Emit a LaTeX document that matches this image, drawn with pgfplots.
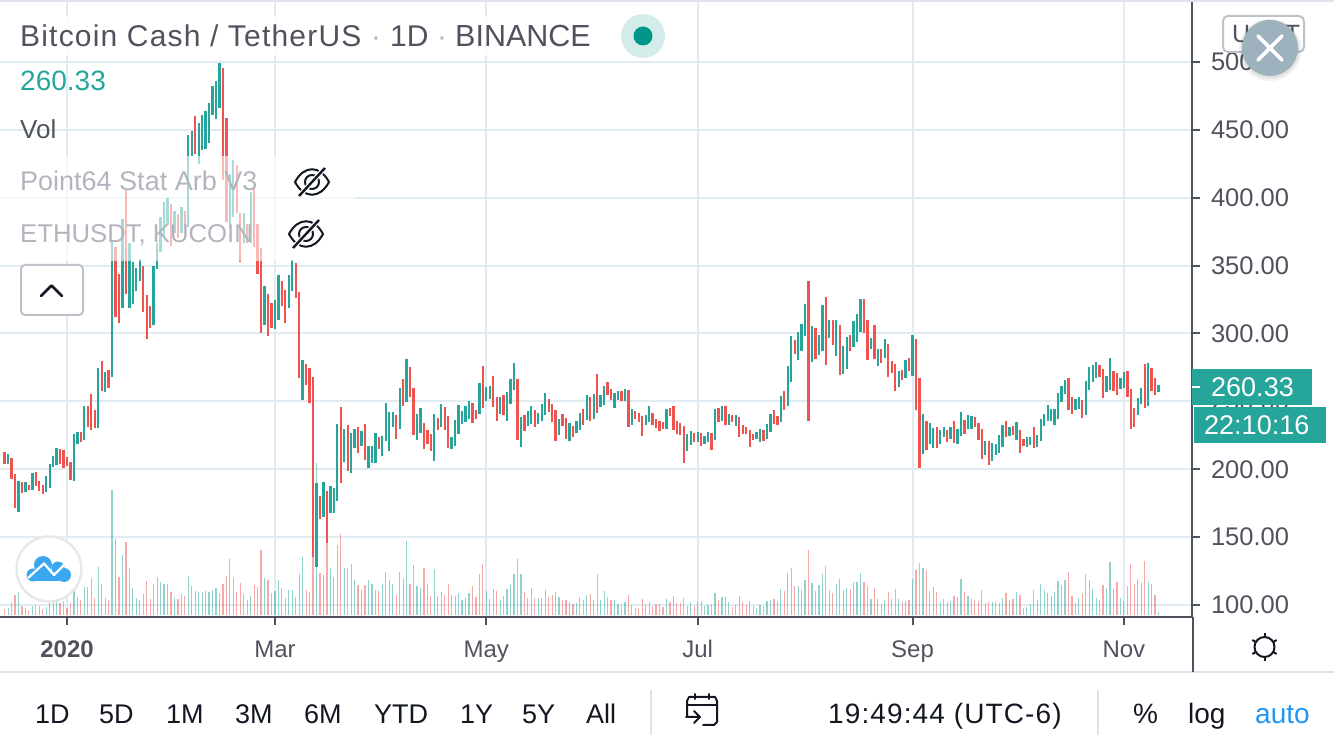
\documentclass[border=0pt]{standalone}
\usepackage{pgfplots}
\usepackage{pgfplotstable}
\usepackage{fontspec}
\pgfplotsset{compat=1.18}
\setmainfont{Liberation Sans}
\newfontfamily\spaced[LetterSpace=4]{Liberation Sans}

\definecolor{barred}{HTML}{EF5350}
\definecolor{barteal}{HTML}{26A69A}
\definecolor{gridc}{HTML}{E1ECF2}
\definecolor{axisc}{HTML}{50535E}
\definecolor{darkc}{HTML}{131722}
\definecolor{fadec}{HTML}{B2B5BE}
\definecolor{edgec}{HTML}{E0E3EB}
\definecolor{blueauto}{HTML}{2196F3}
\definecolor{closec}{HTML}{9DB2BD}
\definecolor{dotc}{HTML}{009688}
\definecolor{cloudc}{HTML}{3BA7F0}

% day (0 = 1 Jan 2020), low, high, volume (px height on the hidden volume scale)
\pgfplotstableread{
d low high vol
-18 203.7 212.5 6
-16 192.6 208.1 13
-15 171.3 196.3 20
-13 182.3 190.4 9
-11 184.5 188.2 4
-9 187.5 197.8 10
-8 183.8 191.2 9
-7 181.6 188.2 6
-2 203.7 214.7 12
-1 200.7 214.0 14
0 202.2 208.8 7
1 191.9 205.2 12
4 219.9 227.3 15
6 231.0 246.4 28
7 228.7 255.3 37
8 230.2 243.5 17
10 257.5 279.6 31
12 259.7 273.0 15
14 312.0 363.5 76
15 308.0 344.0 38
17 329.0 406.0 73
22 315.7 350.0 21
23 295.8 328.0 34
24 304.0 320.0 16
30 364.5 395.4 23
32 370.0 388.0 16
34 377.5 390.0 19
37 432.0 460.0 24
45 413.0 495.6 31
46 382.0 458.8 39
49 389.0 424.0 23
50 353.0 388.5 32
52 367.0 381.0 15
54 363.5 409.0 30
55 344.0 380.7 28
56 300.2 362.7 65
58 298.0 329.0 35
59 304.0 322.4 22
62 320.0 339.0 27
63 307.6 332.0 17
66 326.0 352.0 18
67 267.0 330.5 41
69 262.0 277.4 25
70 248.6 274.4 23
71 135.0 267.8 59
73 163.0 180.0 42
75 146.0 183.8 72
79 189.7 245.7 81
81 198.5 232.4 47
84 211.8 231.0 30
86 207.0 233.0 30
90 214.7 223.6 24
95 222.0 239.8 20
97 246.6 266.5 37
99 253.0 275.0 31
100 225.0 260.0 50
103 215.0 234.0 47
104 218.6 229.0 31
105 213.4 226.0 19
107 229.0 237.8 19
109 229.0 245.9 20
110 215.7 239.0 31
117 234.0 248.8 29
118 237.0 243.6 18
120 245.0 276.0 51
123 245.9 268.7 26
124 235.5 253.0 24
126 240.0 254.7 19
130 221.5 266.5 56
132 228.0 240.0 23
135 231.0 243.6 17
139 242.2 251.7 18
140 234.8 248.0 20
141 220.8 243.6 23
143 231.9 240.7 15
144 222.3 237.8 15
146 223.8 231.9 11
149 232.6 244.4 15
151 235.5 253.2 21
153 241.4 270.0 41
156 254.7 264.3 18
157 251.0 259.0 15
160 250.3 257.6 10
162 231.0 258.4 20
164 237.0 243.0 7
165 234.8 241.4 7
166 224.5 239.2 16
169 232.6 241.4 9
170 230.4 237.0 11
171 228.2 235.5 11
172 229.6 234.8 8
174 239.0 245.0 13
175 228.9 246.6 19
176 226.0 235.5 12
177 225.2 234.0 12
178 204.6 231.9 17
181 220.0 226.7 9
183 217.0 226.7 14
186 214.2 226.7 11
188 234.8 245.0 15
190 232.6 246.6 18
192 234.8 240.0 8
194 223.8 238.5 19
195 226.0 232.6 13
196 226.0 231.0 10
197 216.4 228.9 14
198 221.5 226.0 9
201 220.8 228.9 9
204 233.3 243.6 16
205 232.6 239.2 14
207 243.6 257.6 24
210 285.0 295.0 29
214 235.5 338.7 65
216 281.0 304.0 24
219 276.8 326.9 49
221 291.5 310.0 22
223 269.4 306.0 36
226 287.0 298.9 26
230 300.4 325.4 33
231 280.5 310.0 29
233 281.0 306.0 27
235 278.3 288.6 11
237 268.0 292.3 23
238 270.9 279.7 16
239 257.6 277.5 26
241 265.7 273.0 13
243 272.4 282.0 15
245 243.6 296.0 45
246 200.9 267.0 52
248 214.0 235.5 45
251 215.7 231.0 23
254 220.0 229.0 13
256 219.3 235.5 19
259 226.0 236.3 23
262 231.0 238.5 15
263 221.5 234.0 14
264 207.5 229.6 25
266 203.0 220.8 13
271 223.8 235.5 22
273 225.0 231.9 16
275 212.0 229.0 20
276 217.0 222.3 7
279 215.7 231.0 25
289 243.6 267.0 43
290 240.7 253.2 19
293 237.8 251.0 22
298 268.0 276.8 15
299 252.5 273.8 30
302 257.6 272.4 26
303 254.7 270.9 33
306 253.2 272.4 29
307 229.6 259.0 51
308 231.0 245.0 31
311 245.0 277.5 54
313 257.6 274.6 31
314 254.7 267.0 20
}\redbars

\pgfplotstableread{
d low high vol
-17 203.7 211.0 7
-14 168.3 191.2 23
-12 183.0 190.4 7
-10 184.5 197.0 9
-6 183.0 194.8 8
-5 186.0 203.7 13
-4 201.5 209.6 13
-3 203.0 215.5 13
2 191.2 225.8 25
3 218.4 227.3 18
5 221.4 246.4 28
9 230.2 274.4 48
11 256.8 271.5 17
13 268.0 369.0 125
16 318.6 384.0 60
18 318.6 366.4 47
19 321.6 353.0 27
20 331.0 348.0 17
21 338.6 354.6 15
25 306.0 350.0 31
26 347.5 367.0 38
27 360.0 386.0 33
28 371.0 396.6 31
29 380.0 399.6 31
31 373.8 390.0 17
33 374.0 393.0 21
35 378.7 446.0 39
36 431.0 449.0 29
38 425.0 455.0 23
39 435.0 461.0 23
40 436.0 464.0 24
41 440.0 470.0 23
42 461.0 482.0 25
43 458.0 486.0 27
44 466.0 499.0 22
47 378.7 417.5 56
48 386.0 428.0 37
51 367.0 389.0 21
53 367.0 404.5 19
57 306.0 334.9 37
60 303.0 324.6 24
61 309.8 343.0 35
64 318.7 343.0 25
65 331.0 354.0 25
68 250.9 280.3 58
72 127.8 189.7 152
74 164.6 190.4 40
76 167.6 188.0 47
77 167.6 186.0 38
78 176.4 233.0 70
80 205.0 229.5 47
82 197.0 227.0 51
83 216.0 230.0 35
85 217.0 228.0 25
87 200.7 217.0 35
88 204.4 217.0 31
89 204.4 226.5 25
91 210.0 224.3 31
92 220.6 248.6 43
93 213.3 242.0 35
94 231.0 242.0 31
96 229.5 259.7 43
98 249.5 281.0 74
101 221.5 240.7 29
102 226.7 245.0 27
106 206.0 240.7 46
108 231.0 248.0 23
111 214.9 223.8 20
112 217.0 236.3 19
113 226.0 247.0 22
114 233.0 243.0 15
115 234.8 246.6 17
116 237.0 250.3 22
119 240.7 263.5 41
121 250.3 260.6 24
122 251.7 261.3 16
125 240.7 253.0 15
127 235.5 257.0 26
128 248.0 266.5 31
129 258.4 278.0 41
131 216.4 238.5 41
133 231.9 243.0 17
134 233.3 246.6 27
136 233.3 241.4 17
137 235.5 248.0 17
138 240.0 256.2 25
142 225.2 237.0 18
145 220.8 234.0 13
147 226.7 235.5 12
148 228.9 241.4 18
150 236.3 254.7 20
152 237.0 255.4 15
154 245.9 254.7 15
155 247.3 261.3 24
158 245.0 256.2 15
159 251.0 257.6 11
161 250.3 259.0 13
163 232.6 244.4 10
167 232.6 240.0 10
168 234.8 246.6 13
173 229.6 244.4 16
179 213.4 226.0 9
180 218.0 228.2 13
182 220.0 227.4 13
184 218.6 224.5 9
185 220.0 227.4 10
187 221.5 244.4 22
189 235.5 246.6 18
191 232.6 240.7 13
193 231.9 240.0 10
199 222.3 227.4 7
200 220.0 229.6 10
202 222.3 233.3 14
203 227.4 240.7 15
206 234.8 254.0 26
208 246.6 276.0 42
209 264.0 298.0 47
211 280.5 301.0 29
212 287.0 307.0 25
213 298.0 321.7 35
215 279.0 305.5 32
217 284.0 299.0 30
218 287.0 321.0 41
220 296.7 310.0 25
222 283.4 310.0 31
224 270.0 290.8 25
225 273.8 297.4 27
227 290.0 309.0 33
228 293.7 314.4 33
229 301.0 325.4 42
232 288.6 296.7 16
234 276.0 288.6 16
236 282.0 296.0 15
240 260.6 272.4 16
242 267.0 280.5 14
244 268.7 298.9 36
247 211.0 240.7 47
249 218.6 234.0 24
250 215.7 230.4 28
252 218.6 229.0 13
253 223.8 231.0 16
255 222.3 231.0 14
257 218.6 229.6 18
258 224.5 242.0 36
260 229.6 240.0 19
261 229.6 239.2 16
265 210.5 220.8 12
267 206.0 219.3 13
268 210.5 218.6 13
269 212.0 225.0 12
270 216.4 232.6 17
272 224.5 231.0 15
274 221.5 234.8 23
277 216.4 223.8 8
278 217.9 223.8 11
280 216.4 225.0 15
281 220.8 237.0 31
282 231.9 240.7 25
283 235.5 247.3 22
284 235.5 244.4 19
285 232.6 244.4 23
286 237.0 256.0 34
287 249.5 261.3 30
288 255.4 265.7 35
291 243.6 251.7 12
292 244.4 253.2 17
294 240.0 265.0 41
295 258.4 275.3 35
296 264.3 276.8 26
297 267.0 279.0 17
300 256.9 268.7 27
301 258.4 282.0 53
304 259.0 267.0 17
305 259.8 271.6 14
309 240.0 252.5 35
310 248.0 259.8 32
312 246.6 278.3 33
315 256.9 262.0 3
}\tealbars

\newcommand{\eye}[2]{%
  \begin{scope}[shift={(#1,#2)},draw=darkc,line width=2pt]
    \draw (-17,0) .. controls (-8,-17) and (8,-17) .. (17,0) .. controls (8,17) and (-8,17) .. (-17,0) -- cycle;
    \draw (0,0) circle[radius=7];
    \draw[white,line width=5pt] (-12,13) -- (12,-13);
    \draw[line width=2.4pt] (-13,14) -- (13,-14);
  \end{scope}}
\newcommand{\lbl}[4][axisc]{\node[anchor=base west,inner sep=0,text=#1,font=\fontsize{#2}{#2}\selectfont] at #3 {#4};}

\begin{document}
\begin{tikzpicture}[x=1pt,y=1pt]
\path[use as bounding box] (0,0) rectangle (1334,750);

\begin{axis}[
  scale only axis, width=1192.5pt, height=617pt,
  at={(0pt,133pt)}, anchor=south west,
  xmin=-19.34, xmax=324.8,
  ymin=91.16, ymax=545.67,
  axis x line*=bottom, axis y line*=right,
  axis line style={draw=axisc,line width=2pt,-},
  xtick={0,60,121,182,244,305},
  xticklabels={\textbf{2020},Mar,May,Jul,Sep,Nov},
  ytick={100,150,200,250,300,350,400,450,500},
  tick align=outside, major tick length=8pt,
  tick style={draw=axisc,line width=2pt},
  grid=major, major grid style={draw=gridc,line width=2pt},
  xticklabel style={font=\fontsize{24}{24}\selectfont,text=axisc,yshift=-12pt},
  yticklabel style={font=\fontsize{25.5}{25.5}\selectfont,text=axisc,xshift=7pt},
  /pgf/number format/assume math mode=true,
  /pgf/number format/fixed, /pgf/number format/fixed zerofill,
  /pgf/number format/precision=2,
  error bars/y dir=plus, error bars/y explicit, error bars/error mark=none,
]
\addplot[draw=none,mark=none,error bars/error bar style={draw=barred,line width=2.3pt}]
  table[x=d,y=low,y error plus expr=\thisrow{high}-\thisrow{low},y error minus expr=0] {\redbars};
\addplot[draw=none,mark=none,error bars/error bar style={draw=barteal,line width=2.3pt}]
  table[x=d,y=low,y error plus expr=\thisrow{high}-\thisrow{low},y error minus expr=0] {\tealbars};
\end{axis}

% volume pane on its own hidden scale
\begin{axis}[
  scale only axis, width=1192.5pt, height=200pt,
  at={(0pt,134.5pt)}, anchor=south west,
  xmin=-19.34, xmax=324.8, ymin=0, ymax=200,
  hide axis,
]
\addplot[ycomb,mark=none,draw=barred,opacity=0.5,line width=1.2pt] table[x=d,y=vol] {\redbars};
\addplot[ycomb,mark=none,draw=barteal,opacity=0.5,line width=1.2pt] table[x=d,y=vol] {\tealbars};
\end{axis}

% everything below in image pixels, y running down
\begin{scope}[y=-1pt,yshift=750pt]
% frame
\fill[edgec] (0,0) rectangle (1334,2);
\fill[edgec] (0,671) rectangle (1334,673.5);
\draw[axisc,line width=2pt] (1192.5,617) -- (1192.5,672);

% legend veil over the bars
\fill[white,opacity=0.6] (0,156) rectangle (356,261);
\fill[white,opacity=0.8] (0,16) rectangle (610,56);

% title row
\lbl{30}{(20,47)}{\spaced Bitcoin Cash / TetherUS}
\lbl[fadec]{29.5}{(371,47)}{·}
\lbl{30}{(390,47)}{1D}
\lbl[fadec]{29.5}{(437,47)}{·}
\lbl{30.5}{(455,47)}{BINANCE}
\fill[barteal!20] (643,36) circle[radius=22];
\fill[dotc] (643,36) circle[radius=9.5];

\lbl[barteal]{28}{(20,91)}{260.33}
\lbl{26}{(20,139)}{Vol}
\lbl[fadec]{27}{(20,191)}{Point64 Stat Arb V3}
\lbl[fadec]{25.7}{(20,243)}{ETHUSDT, KUCOIN}
\eye{312}{182}
\eye{306}{234}

\draw[fill=white,draw=edgec!85!black,line width=2pt,rounded corners=4pt] (21,265) rectangle (83,315);
\draw[darkc,line width=2.8pt,line cap=round,line join=round] (41,296) -- (51.5,285.5) -- (62,296);

% logo
\draw[fill=white,draw=black!9,line width=2.4pt] (49,569) circle[radius=32.5];
\begin{scope}[fill=cloudc]
  \fill (43,565) circle[radius=9];
  \fill (58,568) circle[radius=6.5];
  \fill (64,575) circle[radius=7];
  \fill (33,575) circle[radius=6.5];
  \fill (34,570) rectangle (66,581.5);
\end{scope}
\draw[white,line width=2.2pt,line join=round] (28,578) -- (44,563.5) -- (54,575) -- (66,563);

% currency button and close bubble
\draw[fill=white,draw=edgec!85!black,line width=2pt,rounded corners=5pt] (1223,16) rectangle (1304,52);
\lbl{25}{(1232,43)}{USDT}
\fill[black,opacity=0.06] (1270,50) circle[radius=31];
\fill[black,opacity=0.06] (1270,49) circle[radius=29.5];
\fill[closec] (1270,48) circle[radius=28];
\draw[white,line width=3.6pt,line cap=round] (1258,36) -- (1282,60) (1282,36) -- (1258,60);

% price tags
\fill[barteal] (1192,369) rectangle (1312,405);
\fill[barteal] (1194,407) rectangle (1326,443);
\draw[white,line width=2pt] (1192,387) -- (1200,387);
\lbl[white]{27}{(1211,396.5)}{260.33}
\lbl[white]{27}{(1204,434.5)}{22:10:16}

% sun icon
\begin{scope}[shift={(1264.5,647)},draw=darkc,line width=2pt]
  \draw (0,0) circle[radius=10];
  \foreach \a in {90,270,30,150,210,330} \draw (\a:10) -- (\a:14);
\end{scope}

% toolbar
\foreach \x/\t in {35/1D,99/5D,166/1M,235/3M,304/6M,374/YTD,460/1Y,522/5Y,586/All}
  {\lbl[darkc]{27}{(\x,723)}{\t}}
\fill[edgec] (650,690) rectangle (651.5,735);
\begin{scope}[darkc,line width=2pt,line cap=round,line join=round]
  \draw (687,716) -- (687,701) -- (689,697) -- (715,697) -- (717,701) -- (717,722) -- (714,725) -- (703,725);
  \draw (687,705) -- (717,705);
  \draw (695,694) -- (695,699) (709,694) -- (709,699);
  \draw (686,717) -- (700,717) (694,711) -- (700,717) -- (694,723);
\end{scope}
\lbl[darkc]{28}{(828,723)}{\spaced 19:49:44 (UTC-6)}
\fill[edgec] (1097,690) rectangle (1099,735);
\lbl[darkc]{28}{(1133,723)}{\%}
\lbl[darkc]{28}{(1188,723)}{log}
\lbl[blueauto]{28}{(1255,723)}{auto}
\end{scope}
\end{tikzpicture}
\end{document}
